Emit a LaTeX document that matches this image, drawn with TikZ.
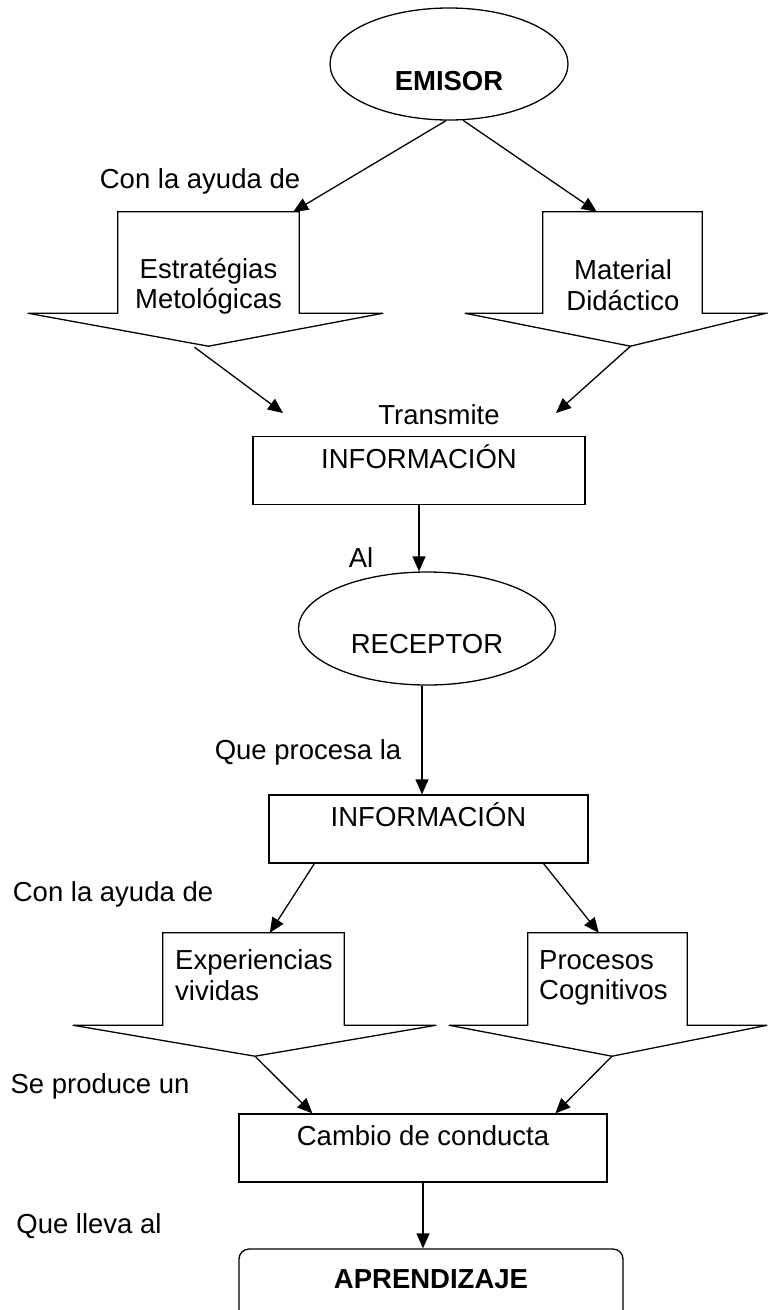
\documentclass[tikz,border=0pt]{standalone}
\usepackage{fontspec}
\setmainfont{Liberation Sans}
\usetikzlibrary{arrows.meta,positioning,calc,shapes.geometric}
\newcommand{\dfont}{\fontsize{27.5}{30.5}\selectfont}

\begin{document}
\begin{tikzpicture}[
      x=1pt, y=-1pt,
      font=\dfont,
      oval/.style={
         ellipse,
         draw=black,
         line width=1.3pt,
         inner sep=0pt},
      infobox/.style={
         rectangle,
         draw=black,
         line width=1.3pt,
         minimum height=68pt,
         text height=20pt,
         text depth=25pt},
      aprbox/.style={
         rectangle,
         draw=black,
         line width=1.3pt,
         rounded corners=10pt,
         minimum width=384pt,
         minimum height=80pt,
         text height=20pt,
         text depth=22pt,
         font=\dfont\bfseries},
      body/.style={
         rectangle,
         inner sep=0pt},
      txt/.style={inner sep=0pt},
      myarrow/.style={-{Triangle[length=15pt,width=13pt]}, line width=1.3pt},
      blockline/.style={draw=black, line width=1.3pt, line join=miter}
      ]
      \useasboundingbox (0,0) rectangle (768,1310);
      \clip (0,0) rectangle (768,1310);

      % top part
      \node[oval, minimum width=238pt, minimum height=112pt,
            label={[font=\dfont\bfseries, yshift=-17pt]center:EMISOR}] (emisor) at (449,64) {};
      \node[txt] (ayuda1) at (200,181) {Con la ayuda de};

      \node[body, minimum width=181pt, minimum height=101pt] (estr) at (208.5,262.5) {};
      \node[body, minimum width=159pt, minimum height=101pt] (mat) at (622.5,262.5) {};
      \node[txt, align=center] (estrtxt) at ($(estr)+(0,23.5)$) {Estratégias\\Metológicas};
      \node[txt, align=center] (mattxt) at ($(mat)+(0.5,22.5)$) {Material\\Didáctico};

      \node[txt] (transmite) at (439,415) {Transmite};
      \coordinate (in1) at (283,413);
      \coordinate (in2) at (556,413);

      \node[infobox, minimum width=332pt] (info1) at (419,470.5) {INFORMACIÓN};
      \node[txt] (al) at (361,558) {Al};
      \node[oval, minimum width=257pt, minimum height=113pt,
            label={[yshift=-16pt]center:RECEPTOR}] (receptor) at (427,628.5) {};

      % bottom part
      \node[txt] (procesa) at (308,752) {Que procesa la};
      \node[infobox, minimum width=319pt] (info2) at (428.5,829) {INFORMACIÓN};
      \node[txt] (ayuda2) at (113,894) {Con la ayuda de};

      \node[body, minimum width=181pt, minimum height=92pt] (exper) at (253.5,979) {};
      \node[body, minimum width=159pt, minimum height=92pt] (proc) at (607.5,979) {};
      \node[txt, align=left, anchor=west] (expertxt) at (175,975) {Experiencias\\vividas};
      \node[txt, align=left, anchor=west] (proctxt) at (539,978) {Procesos\\Cognitivos};

      \node[txt] (produce) at (100,1086) {Se produce un};
      \node[infobox, minimum width=368pt] (cambio) at (423,1148) {Cambio de conducta};
      \node[txt] (lleva) at (89,1226) {Que lleva al};
      \node[aprbox] (apr) at (431,1289) {APRENDIZAJE};

      % tips of the block arrows
      \coordinate (estrtip) at ($(estr.south)+(0,33)$);
      \coordinate (mattip) at ($(mat.south)+(8,33)$);
      \coordinate (expertip) at ($(exper.south)+(1.5,31)$);
      \coordinate (proctip) at ($(proc.south)+(4.5,31)$);

    % block arrows: body/left wing/right wing
    \foreach \b/\l/\r in {estr/90/84, mat/78/64, exper/90/92, proc/79/80}
       \draw[blockline] (\b.south west) -- (\b.north west) -- (\b.north east)
          -- (\b.south east) -- ++(\r,0) -- (\b tip)
          -- ($(\b.south west)+(-\l,0)$) -- cycle;

    \draw [myarrow] (emisor.267) -- ($(estr.north east)+(-6,0)$);
    \draw [myarrow] (emisor.284) -- ($(mat.north west)+(54,0)$);
    \draw [myarrow] ($(estrtip)+(-14,1)$) -- (in1);
    \draw [myarrow] (mattip) -- (in2);
    \draw [myarrow] (info1.south) -- (info1.south |- receptor.north);
    \draw [myarrow] ($(receptor.south)+(-5,0)$) -- ($(info2.north)+(-6.5,0)$);
    \draw [myarrow] ($(info2.south west)+(46,0)$) -- ($(exper.north west)+(107,0)$);
    \draw [myarrow] ($(info2.south east)+(-45,0)$) -- ($(proc.north west)+(71,0)$);
    \draw [myarrow] (expertip) -- ($(cambio.north west)+(74,0)$);
    \draw [myarrow] (proctip) -- ($(cambio.north west)+(317,0)$);
    \draw [myarrow] (cambio.south) -- (cambio.south |- apr.north);
\end{tikzpicture}
\end{document}
